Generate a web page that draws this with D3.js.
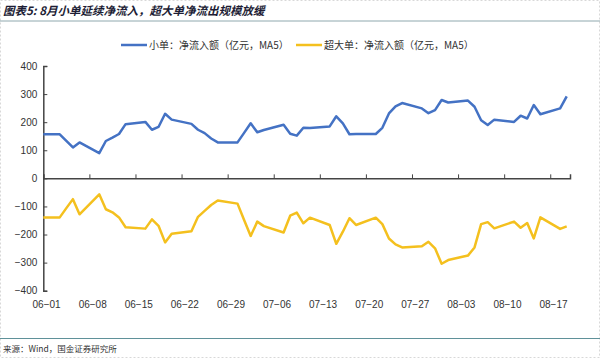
<!DOCTYPE html>
<html>
<head>
<meta charset="utf-8">
<script src="https://cdn.jsdelivr.net/npm/d3@7"></script>
<style>
  html, body { margin: 0; padding: 0; background: #fff; }
  svg { display: block; font-family: "Noto Sans CJK SC", "Noto Sans", sans-serif; }
</style>
</head>
<body>
<div id="chart"></div>
<script>
// trading days (2025), 05-30 is only there so the line enters from the left edge
const dates = ['05-30',
  '06-03','06-04','06-05','06-06','06-09','06-10','06-11','06-12','06-13',
  '06-16','06-17','06-18','06-19','06-20','06-23','06-24','06-25','06-26','06-27','06-30',
  '07-01','07-02','07-03','07-04','07-07','07-08','07-09','07-10','07-11',
  '07-14','07-15','07-16','07-17','07-18','07-21','07-22','07-23','07-24','07-25',
  '07-28','07-29','07-30','07-31','08-01','08-04','08-05','08-06','08-07','08-08',
  '08-11','08-12','08-13','08-14','08-15','08-18','08-19'];

const smallOrders = [157,
  157, 133, 110, 128, 90, 133, 145, 158, 193,
  201, 173, 183, 230, 209, 194, 173, 161, 142, 128, 128,
  162, 196, 164, 172, 191, 159, 152, 180, 179,
  185, 221, 196, 157, 158, 158, 180, 231, 256, 268,
  249, 232, 243, 279, 270, 277, 255, 207, 190, 209,
  201, 223, 213, 261, 228, 249, 292];

const hugeOrders = [-139,
  -139, -106, -74, -128, -57, -110, -121, -139, -174,
  -179, -146, -169, -228, -197, -188, -137, -116, -95, -79, -90,
  -148, -205, -154, -170, -193, -133, -122, -160, -140,
  -166, -233, -190, -142, -166, -140, -163, -214, -235, -246,
  -242, -226, -249, -304, -291, -275, -246, -163, -156, -178,
  -154, -176, -159, -214, -139, -180, -171];

const xTickLabels = ['06-01','06-08','06-15','06-22','06-29','07-06','07-13','07-20','07-27','08-03','08-10','08-17'];
const yTicks = [400, 300, 200, 100, 0, -100, -200, -300, -400];

const seriesNames = ['小单：净流入额（亿元，MA5）', '超大单：净流入额（亿元，MA5）'];
const seriesColors = ['#4472c4', '#f4c01e'];

const W = 600, H = 358;
const parse = d3.timeParse('%Y-%m-%d');
const day = s => parse('2025-' + s);
const mid = s => d3.timeHour.offset(day(s), 12);

const svg = d3.select('#chart').append('svg')
  .attr('width', W)
  .attr('height', H);

// faint page border
svg.append('rect')
  .attr('x', 0.5).attr('y', 0.5).attr('width', W - 1).attr('height', H - 1)
  .attr('fill', 'none').attr('stroke', '#d8d8d8').attr('stroke-dasharray', '2,2');

// title + rules
svg.append('text')
  .attr('x', 3).attr('y', 15)
  .attr('font-size', 11.5).attr('font-weight', 'bold').attr('font-style', 'italic')
  .attr('fill', '#1d1d35')
  .text('图表5: 8月小单延续净流入，超大单净流出规模放缓');
svg.append('line')
  .attr('x1', 0).attr('x2', W).attr('y1', 21).attr('y2', 21)
  .attr('stroke', '#8fa8ae').attr('stroke-width', 1);
svg.append('line')
  .attr('x1', 0).attr('x2', W).attr('y1', 338.5).attr('y2', 338.5)
  .attr('stroke', '#5f9199').attr('stroke-width', 1.2);
svg.append('text')
  .attr('x', 3).attr('y', 352)
  .attr('font-size', 8.5).attr('fill', '#333')
  .text('来源：Wind，国金证券研究所');

// scales
const x = d3.scaleTime().domain([day('06-01'), day('08-20')]).range([43.3, 570]);
const y = d3.scaleLinear().domain([-400, 400]).range([290.7, 66]);

// legend
const legend = svg.append('g').attr('font-size', 10).attr('fill', '#333');
const legendX = [121, 296];
seriesNames.forEach((name, i) => {
  legend.append('line')
    .attr('x1', legendX[i]).attr('x2', legendX[i] + 26).attr('y1', 45).attr('y2', 45)
    .attr('stroke', seriesColors[i]).attr('stroke-width', 2.5);
  legend.append('text')
    .attr('x', legendX[i] + 28).attr('y', 48.5)
    .text(name);
});

// y axis
const yAxis = svg.append('g')
  .attr('transform', `translate(${x.range()[0]},0)`)
  .call(d3.axisRight(y).tickValues(yTicks).tickSize(4).tickFormat(d3.format('d')));
yAxis.select('.domain').attr('stroke', '#444').attr('stroke-width', 1.5);
yAxis.selectAll('.tick line').attr('stroke', '#444');
yAxis.selectAll('.tick text')
  .attr('x', -6).attr('text-anchor', 'end')
  .attr('font-size', 10).attr('fill', '#333').attr('font-family', 'Liberation Sans, Arial, sans-serif')
  .text(d => d < 0 ? '−' + Math.abs(d) : d);

// x axis at zero, ticks pointing up
const xAxis = svg.append('g')
  .attr('transform', `translate(0,${y(0)})`)
  .call(d3.axisTop(x).tickValues(xTickLabels.map(day)).tickSize(4).tickFormat(''));
xAxis.select('.domain').attr('stroke', '#444').attr('stroke-width', 1.5);
xAxis.selectAll('.tick line').attr('stroke', '#444');

// x labels sit at the bottom, centred on the day slot
svg.append('g')
  .attr('font-size', 10).attr('fill', '#333').attr('text-anchor', 'middle')
  .attr('font-family', 'Liberation Sans, Arial, sans-serif')
  .selectAll('text')
  .data(xTickLabels)
  .enter()
  .append('text')
  .attr('x', d => x(mid(d)))
  .attr('y', 308)
  .text(d => d.replace('-', '−'));

// lines
svg.append('clipPath').attr('id', 'plot')
  .append('rect')
  .attr('x', x.range()[0]).attr('y', 0)
  .attr('width', x.range()[1] - x.range()[0]).attr('height', H);

const line = d3.line()
  .x((_, i) => x(mid(dates[i])))
  .y(v => y(v));

[smallOrders, hugeOrders].forEach((values, i) => {
  svg.append('path')
    .datum(values)
    .attr('clip-path', 'url(#plot)')
    .attr('fill', 'none')
    .attr('stroke', seriesColors[i])
    .attr('stroke-width', 2.5)
    .attr('stroke-linejoin', 'round')
    .attr('d', line);
});
</script>
</body>
</html>
